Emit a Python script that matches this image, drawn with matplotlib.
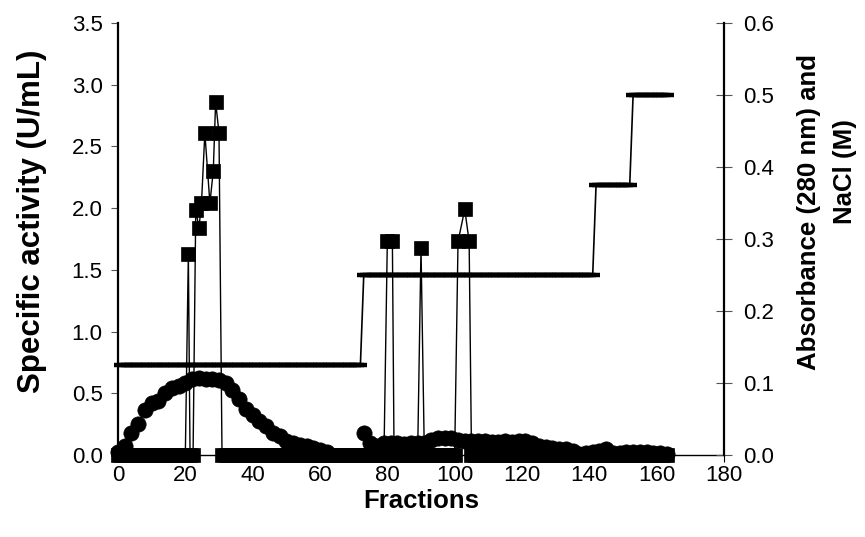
import numpy as np
import matplotlib
matplotlib.use("Agg")
import matplotlib.pyplot as plt

plt.rcParams['font.family'] = ['Liberation Sans', 'DejaVu Sans']

# ---- Specific activity (U/mL), left axis ----
act_x = ([float(v) for v in range(0, 21)] +
         [20.9, 21.4, 22.3, 23.1, 24.05, 24.8, 25.8, 27.3, 28.3, 29.0, 30.0, 30.9] +
         [float(v) for v in range(32, 80)] +
         [80.0, 81.5] +
         [float(v) for v in range(82, 90)] +
         [90.0] +
         [float(v) for v in range(91, 101)] +
         [101.0, 103.0, 104.3] +
         [float(v) for v in range(105, 164)])
act_y = ([0.0] * 21 +
         [1.63, 0.0, 0.0, 1.985, 1.84, 2.04, 2.61, 2.04, 2.30, 2.86, 2.61, 0.0] +
         [0.0] * 48 +
         [1.73, 1.73] +
         [0.0] * 8 +
         [1.68] +
         [0.0] * 10 +
         [1.73, 1.99, 1.73] +
         [0.0] * 59)

# ---- Absorbance at 280 nm, right axis ----
abs_x = [0, 2, 4, 6, 8, 10, 12, 14, 16, 18, 20, 22, 24, 26, 28, 30, 32, 34, 36,
         38, 40, 42, 44, 46, 48, 50, 52, 54, 56, 58, 60, 62,
         np.nan,
         73, 75, 77, 79, 81, 83, 85, 87, 89, 91, 93, 95, 97, 99, 101, 103, 105,
         107, 109, 111, 113, 115, 117, 119, 121, 123, 125, 127, 129, 131, 133,
         135, 137, 139, 141, 143, 145, 147, 149, 151, 153, 155, 157, 159, 161, 163]
abs_y = [0.004, 0.012, 0.030, 0.043, 0.062, 0.072, 0.075, 0.086, 0.093, 0.096,
         0.100, 0.105, 0.107, 0.106, 0.105, 0.104, 0.100, 0.090, 0.078, 0.064,
         0.055, 0.047, 0.040, 0.030, 0.026, 0.020, 0.016, 0.014, 0.012, 0.010,
         0.007, 0.004,
         np.nan,
         0.030, 0.016, 0.013, 0.017, 0.016, 0.016, 0.015, 0.016, 0.017, 0.017,
         0.021, 0.023, 0.024, 0.023, 0.021, 0.020, 0.020, 0.020, 0.019, 0.018,
         0.018, 0.020, 0.018, 0.019, 0.020, 0.016, 0.013, 0.011, 0.010, 0.009,
         0.009, 0.006, 0.002, 0.003, 0.004, 0.006, 0.008, 0.003, 0.003, 0.004,
         0.004, 0.004, 0.004, 0.003, 0.003, 0.002]

# ---- NaCl gradient steps (M), right axis ----
nacl_levels = [0.125, 0.25, 0.375, 0.5]
nacl_first = [1, 73, 142, 153]
nacl_last = [72, 141, 152, 163]
nacl_x, nacl_y = [], []
for lvl, a, b in zip(nacl_levels, nacl_first, nacl_last):
    for f in range(a, b + 1):
        nacl_x.append(f)
        nacl_y.append(lvl)

x_ticks = [0, 20, 40, 60, 80, 100, 120, 140, 160, 180]
left_ticks = [0.0, 0.5, 1.0, 1.5, 2.0, 2.5, 3.0, 3.5]
right_ticks = [0.0, 0.1, 0.2, 0.3, 0.4, 0.5, 0.6]

fig = plt.figure(figsize=(8.65, 5.37), dpi=100)
ax = fig.add_axes([0.1364, 0.1527, 0.7006, 0.8045])
ax2 = ax.twinx()

ax.plot(act_x, act_y, color='black', lw=1.0, marker='s', markersize=10.5,
        markeredgewidth=0.5, clip_on=False, zorder=3)
ax2.plot(abs_x, abs_y, color='black', lw=1.0, marker='o', markersize=11,
         markeredgewidth=0.5, clip_on=False, zorder=3)
ax2.plot(nacl_x, nacl_y, color='black', lw=1.2, marker='_', markersize=9.5,
         markeredgewidth=3.2, clip_on=False, zorder=3)

ax.set_xlim(0, 180)
ax.set_ylim(0, 3.5)
ax2.set_ylim(0, 0.6)
ax.set_xticks(x_ticks)
ax.set_xticklabels([str(t) for t in x_ticks])
ax.set_yticks(left_ticks)
ax.set_yticklabels([f"{t:.1f}" for t in left_ticks])
ax2.set_yticks(right_ticks)
ax2.set_yticklabels([f"{t:.1f}" for t in right_ticks])

for a in (ax, ax2):
    a.spines['top'].set_visible(False)
    a.patch.set_visible(False)
ax.spines['left'].set_linewidth(1.6)
ax2.spines['right'].set_linewidth(1.6)
ax.spines['bottom'].set_linewidth(1.0)
ax2.spines['left'].set_visible(False)
ax2.spines['bottom'].set_visible(False)
ax.spines['right'].set_visible(False)

ax.tick_params(axis='x', direction='out', length=5, width=0.8, labelsize=16, pad=2)
ax.tick_params(axis='y', direction='out', length=5, width=0.8, labelsize=16, pad=6,
               color='#555555')
ax2.tick_params(axis='y', direction='inout', length=11, width=0.8, labelsize=16, pad=8,
                color='#555555')

ax.set_xlabel('Fractions', fontsize=18.5, fontweight='bold')
ax.xaxis.set_label_coords(0.5, -0.078)
ax.set_ylabel('Specific activity (U/mL)', fontsize=22.5, fontweight='bold')
ax.yaxis.set_label_coords(-0.117, 0.542)

fig.text(809 / 865, 1 - 212 / 537, 'Absorbance (280 nm) and', rotation=90,
         ha='center', va='center', fontsize=18.6, fontweight='bold')
fig.text(845 / 865, 1 - 172 / 537, 'NaCl (M)', rotation=90,
         ha='center', va='center', fontsize=18.6, fontweight='bold')

fig.savefig('out.png', dpi=100)
